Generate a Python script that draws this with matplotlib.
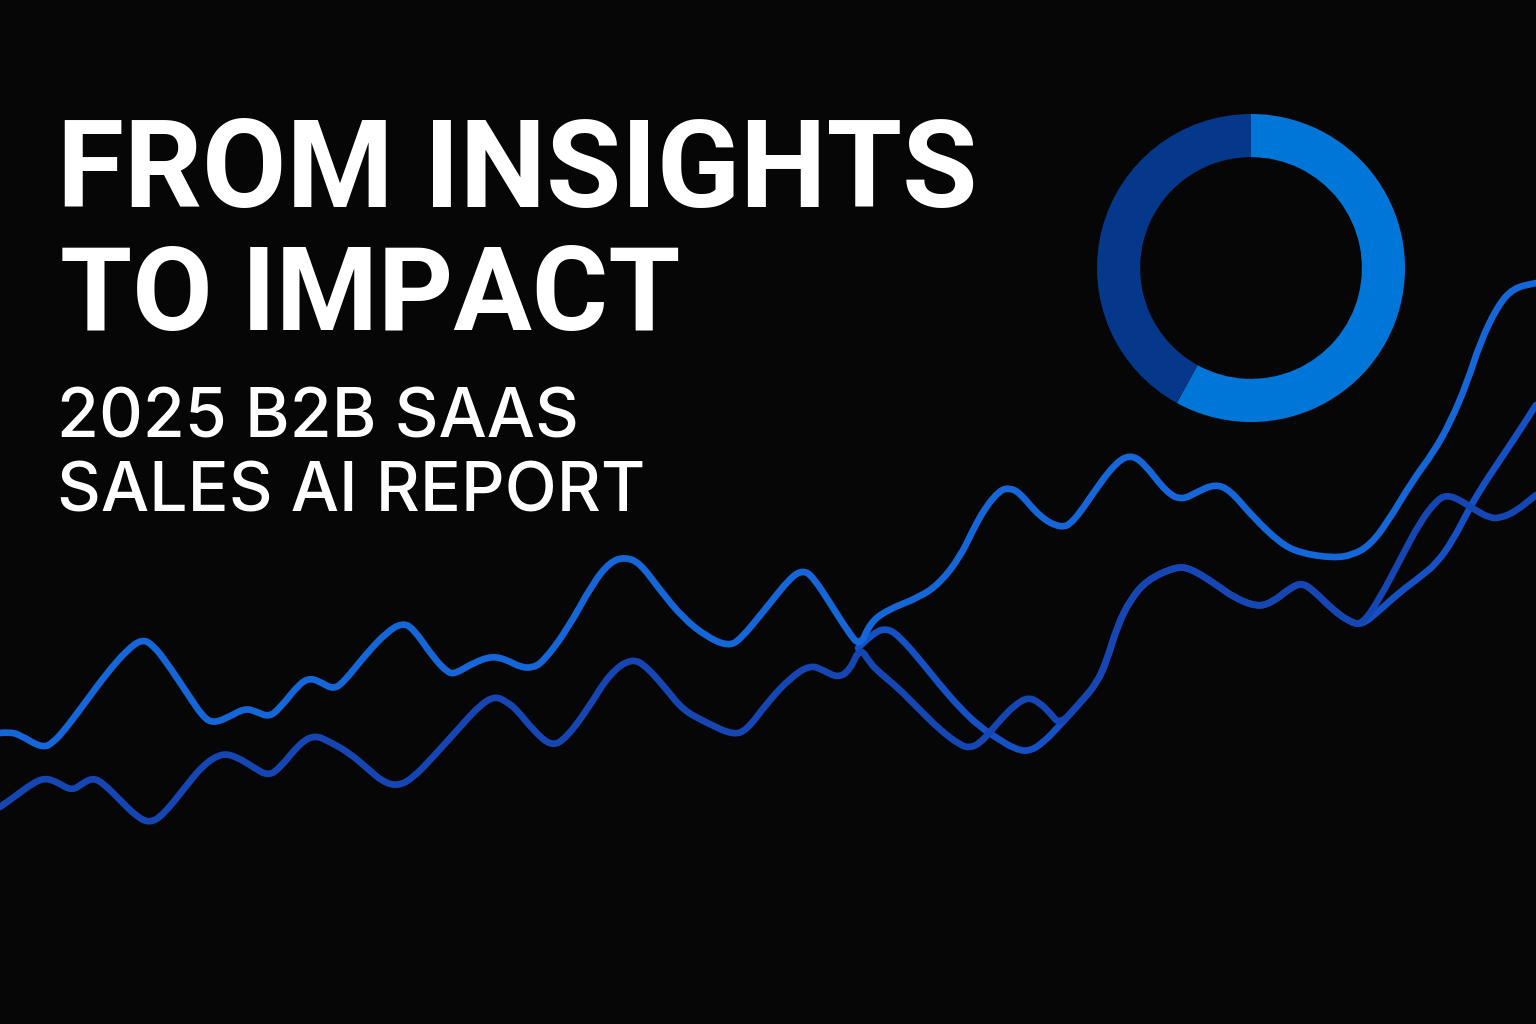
import matplotlib
matplotlib.use('Agg')
import matplotlib.pyplot as plt
from matplotlib.path import Path
from matplotlib.patches import PathPatch

# couleurs
fond = '#060606'
bleu_clair = '#1566d8'
bleu_fonce = '#1646b4'
bleu_moyen = '#1550c4'
anneau_clair = '#0077d8'
anneau_fonce = '#05388a'

# textes
titre = ['FROM INSIGHTS', 'TO IMPACT']
sous_titre = ['2025 B2B SAAS', 'SALES AI REPORT']

# donut : parts
parts = [58, 42]

# courbe 1 (claire) : haut a gauche puis montee vers le coin haut droit
x1 = [0, 1.0, 2.0, 4.2, 5.3, 6.7, 8.7, 10.7, 12.7, 14.2, 15.3, 16.7, 18.7, 20.3, 21.3, 22.7,
      24.5, 25.7, 26.9, 28.0, 30.0, 31.1, 32.2, 33.3, 34.3, 36.7, 38.7, 40.2, 41.3, 43.3, 44.7,
      45.5, 47.3, 49.2, 50.7, 52.0, 53.2, 54.3, 56.7, 59.3, 61.0, 62.5, 64.0, 66.0, 68.3, 70.7,
      72.8, 74.0, 76.7, 79.0, 80.3, 81.3, 83.0, 84.7, 86.0, 87.0, 88.7, 92.0, 94.0, 96.0, 97.3,
      98.5, 100.0, 101.0, 102.0, 104.0, 106.0, 107.3, 110.0, 111.7, 113.0, 114.3, 116.7, 118.2,
      119.7, 121.5, 123.0, 125.3, 128.0, 130.0, 133.3, 135.3, 137.0, 138.7, 141.3, 143.3, 145.0,
      146.7, 148.0, 149.7, 151.3, 153.6]
y1 = [29.1, 29.2, 28.9, 27.6, 28.1, 29.7, 32.4, 35.1, 37.4, 38.5, 37.9, 36.1, 33.1, 30.7, 30.1, 30.6,
      31.6, 31.2, 30.7, 31.6, 34.1, 34.6, 34.1, 33.5, 34.1, 37.1, 39.2, 40.1, 39.6, 36.7, 35.2,
      35.0, 36.1, 36.8, 36.4, 35.7, 35.6, 36.2, 39.4, 44.1, 46.2, 46.7, 46.1, 43.4, 40.6, 38.7,
      37.8, 38.4, 41.7, 44.6, 45.4, 44.7, 42.1, 39.4, 37.7, 40.1, 41.4, 42.7, 44.1, 46.7, 49.4,
      51.6, 53.4, 53.6, 53.1, 50.7, 49.6, 50.1, 54.1, 56.2, 56.9, 56.2, 53.1, 52.4,
      53.2, 54.0, 53.4, 50.7, 48.1, 47.1, 46.6, 46.9, 47.9, 50.1, 54.4, 57.1, 60.1,
      64.1, 68.1, 71.7, 73.6, 74.1]

# troncon commun aux courbes 2 et 3 (a droite)
x_commun = [106.0, 108.0, 109.7, 110.7, 111.7, 113.0, 114.7, 117.5, 119.0, 121.7, 123.3, 125.7,
            127.3, 129.0, 130.2, 131.3, 133.3, 135.0, 136.2]
y_commun = [29.9, 32.1, 34.1, 36.4, 39.7, 42.4, 44.4, 45.7, 45.6, 43.9, 42.7, 41.7,
            42.2, 43.6, 44.1, 43.4, 41.4, 40.2, 39.9]

# courbe 2 (foncee) : bas a gauche
x2_debut = [0, 1.7, 3.3, 4.5, 5.7, 7.2, 8.3, 9.3, 10.3, 12.0, 13.7, 15.0, 16.3, 18.3, 20.3, 22.2,
            23.7, 25.3, 26.8, 28.0, 30.0, 31.5, 33.0, 34.8, 36.7, 38.3, 39.8, 41.3, 43.3, 46.0,
            48.0, 49.5, 50.7, 51.7, 53.3, 55.2, 56.7, 58.7, 61.0, 63.2, 64.7, 66.7, 68.3, 70.7,
            73.3, 74.7, 76.7, 79.0, 81.0, 82.3, 83.8, 85.0, 86.0, 87.0, 88.0, 89.7, 91.7, 94.0,
            96.0, 97.0, 98.0, 99.0, 100.3, 101.5, 102.8, 104.0, 105.0]
y2_debut = [21.7, 22.9, 24.1, 24.6, 24.2, 23.3, 24.1, 24.6, 24.1, 22.4, 20.7, 20.1, 20.9, 23.4, 25.9, 27.1,
            26.7, 25.7, 24.8, 25.6, 28.1, 28.9, 28.2, 27.2, 25.6, 24.2, 23.8, 24.6, 26.7, 29.7,
            31.9, 32.8, 32.2, 31.4, 29.4, 27.7, 28.7, 31.4, 35.1, 36.6, 35.7, 33.4, 31.4, 30.1,
            28.9, 29.4, 32.1, 34.6, 35.9, 35.4, 34.6, 35.4, 37.7, 36.1, 35.1, 33.7, 31.7, 29.4,
            27.9, 27.6, 28.1, 29.2, 30.7, 31.9, 32.7, 32.1, 31.1]
x2_fin = [138.0, 140.0, 142.0, 143.7, 144.7, 146.0, 147.5, 149.0, 150.0, 151.5, 153.6]
y2_fin = [42.6, 46.4, 50.2, 52.4, 52.9, 52.4, 51.4, 50.6, 50.6, 51.2, 52.9]

# courbe 3 : part du croisement
x3_debut = [85.8, 87.3, 88.7, 90.0, 92.0, 94.0, 96.0, 98.0, 100.0, 101.3, 102.8, 104.3]
y3_debut = [37.6, 39.1, 39.6, 38.7, 36.4, 33.9, 31.6, 29.7, 28.4, 27.6, 27.2, 28.1]
x3_fin = [138.0, 140.0, 142.0, 143.7, 145.3, 146.7, 148.0, 150.0, 152.0, 153.6]
y3_fin = [41.4, 43.2, 44.7, 46.1, 48.4, 51.1, 53.4, 56.4, 59.4, 61.9]

x2 = x2_debut + x_commun + x2_fin
y2 = y2_debut + y_commun + y2_fin
x3 = x3_debut + x_commun + x3_fin
y3 = y3_debut + y_commun + y3_fin


def courbe_lisse(ax, xs, ys, couleur, lw):
    '''trace la serie avec des segments de Bezier quadratiques (coins arrondis)'''
    pts = list(zip(xs, ys))
    verts = [pts[0]]
    codes = [Path.MOVETO]
    for i in range(1, len(pts) - 1):
        mx = (pts[i][0] + pts[i + 1][0]) / 2
        my = (pts[i][1] + pts[i + 1][1]) / 2
        verts += [pts[i], (mx, my)]
        codes += [Path.CURVE3, Path.CURVE3]
    verts.append(pts[-1])
    codes.append(Path.LINETO)
    patch = PathPatch(Path(verts, codes), facecolor='none', edgecolor=couleur, lw=lw,
                      capstyle='round', joinstyle='round')
    ax.add_patch(patch)


fig = plt.figure(figsize=(15.36, 10.24), dpi=100)
fig.patch.set_facecolor(fond)

ax = fig.add_axes([0, 0, 1, 1])
ax.set_facecolor(fond)
ax.set_xlim(0, 153.6)
ax.set_ylim(0, 102.4)
ax.axis('off')

lw = 4.8
courbe_lisse(ax, x3, y3, bleu_moyen, lw)
courbe_lisse(ax, x2, y2, bleu_fonce, lw)
courbe_lisse(ax, x1, y1, bleu_clair, lw)

# donut
ax_d = fig.add_axes([1097 / 1536, (1024 - 422) / 1024, 308 / 1536, 308 / 1024])
ax_d.pie(parts, colors=[anneau_clair, anneau_fonce], startangle=90, counterclock=False,
         radius=1, wedgeprops=dict(width=0.28, linewidth=0))
ax_d.set_xlim(-1, 1)
ax_d.set_ylim(-1, 1)
ax_d.axis('off')

# textes
police = ['Roboto', 'DejaVu Sans']
police_sous = ['Inter', 'DejaVu Sans']
fig.text(57 / 1536, 1 - 207 / 1024, titre[0], color='white', fontsize=88, fontweight='bold',
         family=police, ha='left', va='baseline')
fig.text(60 / 1536, 1 - 330 / 1024, titre[1], color='white', fontsize=84, fontweight='bold',
         family=police, ha='left', va='baseline')
fig.text(57 / 1536, 1 - 437 / 1024, sous_titre[0], color='white', fontsize=49, fontweight='medium',
         family=police_sous, ha='left', va='baseline')
fig.text(57 / 1536, 1 - 511 / 1024, sous_titre[1], color='white', fontsize=49, fontweight='medium',
         family=police_sous, ha='left', va='baseline')

plt.savefig('out.png', dpi=100, facecolor=fond)
plt.close()
